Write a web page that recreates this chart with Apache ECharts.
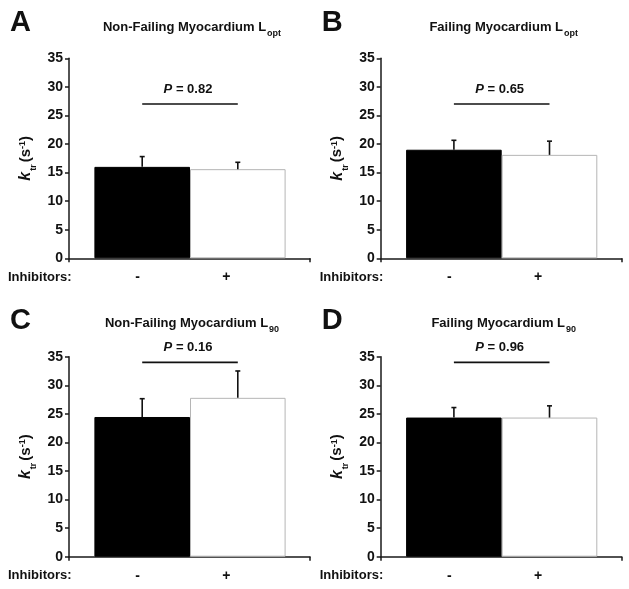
<!DOCTYPE html>
<html><head><meta charset="utf-8">
<script src="https://cdn.jsdelivr.net/npm/echarts@6/dist/echarts.min.js"></script>
<style>html,body{margin:0;padding:0;background:#fff}#c{width:629px;height:589px}</style>
</head><body><div id="c"></div>
<script>
// ---- data ----
const categories = ['-', '+'];
const panelLetters = ['A', 'B', 'C', 'D'];
const titleMain = ['Non-Failing Myocardium L', 'Failing Myocardium L', 'Non-Failing Myocardium L', 'Failing Myocardium L'];
const titleSub = ['opt', 'opt', '90', '90'];
const meansA = [16.0, 15.6];  const semA = [1.8, 1.2];
const meansB = [19.0, 18.1];  const semB = [1.65, 2.4];
const meansC = [24.45, 27.8]; const semC = [3.2, 4.7];
const meansD = [24.35, 24.35]; const semD = [1.75, 2.05];
const pValues = ['0.82', '0.65', '0.16', '0.96'];
const sigLevels = [27, 27, 34, 34];
const yMin = 0, yMax = 35, yStep = 5;
const xLabelTitle = 'Inhibitors:';

const allMeans = [meansA, meansB, meansC, meansD];
const allSems = [semA, semB, semC, semD];

// ---- layout / style ----
const FONT = '"Liberation Sans", Arial, Helvetica, sans-serif';
const layout = [
  {left: 69, top: 58.3, titleY: 28.5, letterY: 20, labY: 277},
  {left: 380.7, top: 58.3, titleY: 28.5, letterY: 20, labY: 277},
  {left: 69, top: 356.7, titleY: 325, letterY: 318, labY: 575},
  {left: 380.7, top: 356.7, titleY: 325, letterY: 318, labY: 575}
];
const axisW = 241, plotH = 200, barOff = 25.4, barW = 191.2;
const labelShift = [9, 23];
const axisColor = '#1a1a1a';

const grid = [], xAxis = [], yAxis = [], series = [], graphic = [];

layout.forEach((L, i) => {
  grid.push({left: L.left, top: L.top, width: axisW, height: plotH});
  grid.push({left: L.left + barOff, top: L.top, width: barW, height: plotH});
  xAxis.push({
    gridIndex: 2 * i, type: 'value', min: 0, max: 1, interval: 1,
    axisLine: {show: true, lineStyle: {color: axisColor, width: 1.5}},
    axisTick: {show: true, length: 4, lineStyle: {color: axisColor, width: 1.5}},
    axisLabel: {show: false}, splitLine: {show: false}
  });
  yAxis.push({
    gridIndex: 2 * i, type: 'value', min: yMin, max: yMax, interval: yStep,
    axisLine: {show: true, lineStyle: {color: axisColor, width: 1.5}},
    axisTick: {show: true, length: 4, lineStyle: {color: axisColor, width: 1.5}},
    axisLabel: {fontFamily: FONT, fontWeight: 'bold', fontSize: 14, color: '#111', margin: 6},
    splitLine: {show: false},
    name: '{k|k}{sub|tr}{n|(s}{sup|-1}{n|)}',
    nameLocation: 'middle', nameRotate: 90, nameGap: 33,
    nameTextStyle: {
      fontFamily: FONT, color: '#111',
      rich: {
        k: {fontFamily: FONT, fontStyle: 'italic', fontWeight: 'bold', fontSize: 16, lineHeight: 18, verticalAlign: 'top', color: '#111'},
        sub: {fontFamily: FONT, fontWeight: 'bold', fontSize: 9, lineHeight: 9, verticalAlign: 'top', padding: [11, 2, 0, 1], color: '#111'},
        n: {fontFamily: FONT, fontWeight: 'bold', fontSize: 15, lineHeight: 18, verticalAlign: 'top', color: '#111'},
        sup: {fontFamily: FONT, fontWeight: 'bold', fontSize: 9, lineHeight: 9, verticalAlign: 'top', padding: [0, 0, 0, 0], color: '#111'}
      }
    }
  });
  xAxis.push({
    gridIndex: 2 * i + 1, type: 'category', data: categories.map((c, j) => ({value: c, textStyle: {padding: [0, labelShift[j], 0, 0]}})),
    axisLine: {show: false}, axisTick: {show: false}, splitLine: {show: false},
    axisLabel: {fontFamily: FONT, fontWeight: 'bold', fontSize: 14, color: '#111', margin: 12}
  });
  yAxis.push({gridIndex: 2 * i + 1, type: 'value', min: yMin, max: yMax, interval: yStep, show: false});

  const means = allMeans[i], sems = allSems[i];
  series.push({
    type: 'bar', xAxisIndex: 2 * i + 1, yAxisIndex: 2 * i + 1, barWidth: '100%', silent: true,
    data: means.map((v, j) => ({
      value: v,
      itemStyle: j === 0 ? {color: '#000', borderColor: '#000', borderWidth: 1}
                         : {color: '#fff', borderColor: '#b5b5b5', borderWidth: 1}
    }))
  });
  series.push({
    type: 'custom', xAxisIndex: 2 * i + 1, yAxisIndex: 2 * i + 1, clip: false, silent: true, z: 5,
    data: means.map((v, j) => [j, v, v + sems[j]]),
    renderItem: (params, api) => {
      const p0 = api.coord([api.value(0), api.value(1)]);
      const p1 = api.coord([api.value(0), api.value(2)]);
      const st = {stroke: '#111', lineWidth: 1.6};
      return {type: 'group', children: [
        {type: 'line', shape: {x1: p0[0], y1: p0[1], x2: p1[0], y2: p1[1]}, style: st},
        {type: 'line', shape: {x1: p1[0] - 2.5, y1: p1[1], x2: p1[0] + 2.5, y2: p1[1]}, style: st}
      ]};
    }
  });
  series.push({
    type: 'custom', xAxisIndex: 2 * i + 1, yAxisIndex: 2 * i + 1, clip: false, silent: true, z: 5,
    data: [[0, 1, sigLevels[i]]],
    renderItem: (params, api) => {
      const a = api.coord([api.value(0), api.value(2)]);
      const b = api.coord([api.value(1), api.value(2)]);
      return {type: 'group', children: [
        {type: 'line', shape: {x1: a[0], y1: a[1], x2: b[0], y2: b[1]}, style: {stroke: '#111', lineWidth: 1.6}},
        {type: 'text', x: (a[0] + b[0]) / 2 - 2, y: a[1] - 15,
          style: {text: '{i|P}{n| = ' + pValues[i] + '}', align: 'center', verticalAlign: 'middle',
            textAlign: 'center', textVerticalAlign: 'middle', fill: '#111',
            rich: {
              i: {fontFamily: FONT, fontStyle: 'italic', fontWeight: 'bold', fontSize: 13, fill: '#111'},
              n: {fontFamily: FONT, fontWeight: 'bold', fontSize: 13, fill: '#111'}
            }}}
      ]};
    }
  });

  // panel letter
  graphic.push({type: 'text', left: L.left - 59, top: L.letterY - 12,
    style: {text: panelLetters[i], font: 'bold 29px ' + FONT, fill: '#111'}});
  // title
  graphic.push({type: 'text', x: L.left + barOff + barW / 2 + 2, y: L.titleY,
    style: {text: '{m|' + titleMain[i] + '}{s|' + titleSub[i] + '}', align: 'center', verticalAlign: 'middle',
      textAlign: 'center', textVerticalAlign: 'middle',
      rich: {
        m: {fontFamily: FONT, fontWeight: 'bold', fontSize: 13, lineHeight: 16, verticalAlign: 'top', fill: '#111'},
        s: {fontFamily: FONT, fontWeight: 'bold', fontSize: 9, lineHeight: 9, verticalAlign: 'top', padding: [8.5, 0, 0, 1], fill: '#111'}
      }}});
  // "Inhibitors:"
  graphic.push({type: 'text', x: L.left - 61, y: L.labY,
    style: {text: xLabelTitle, font: 'bold 13px ' + FONT, fill: '#111', align: 'left', verticalAlign: 'middle',
      textAlign: 'left', textVerticalAlign: 'middle'}});
});

const chart = echarts.init(document.getElementById('c'));
chart.setOption({animation: false, backgroundColor: '#fff', grid, xAxis, yAxis, series, graphic});
</script></body></html>
